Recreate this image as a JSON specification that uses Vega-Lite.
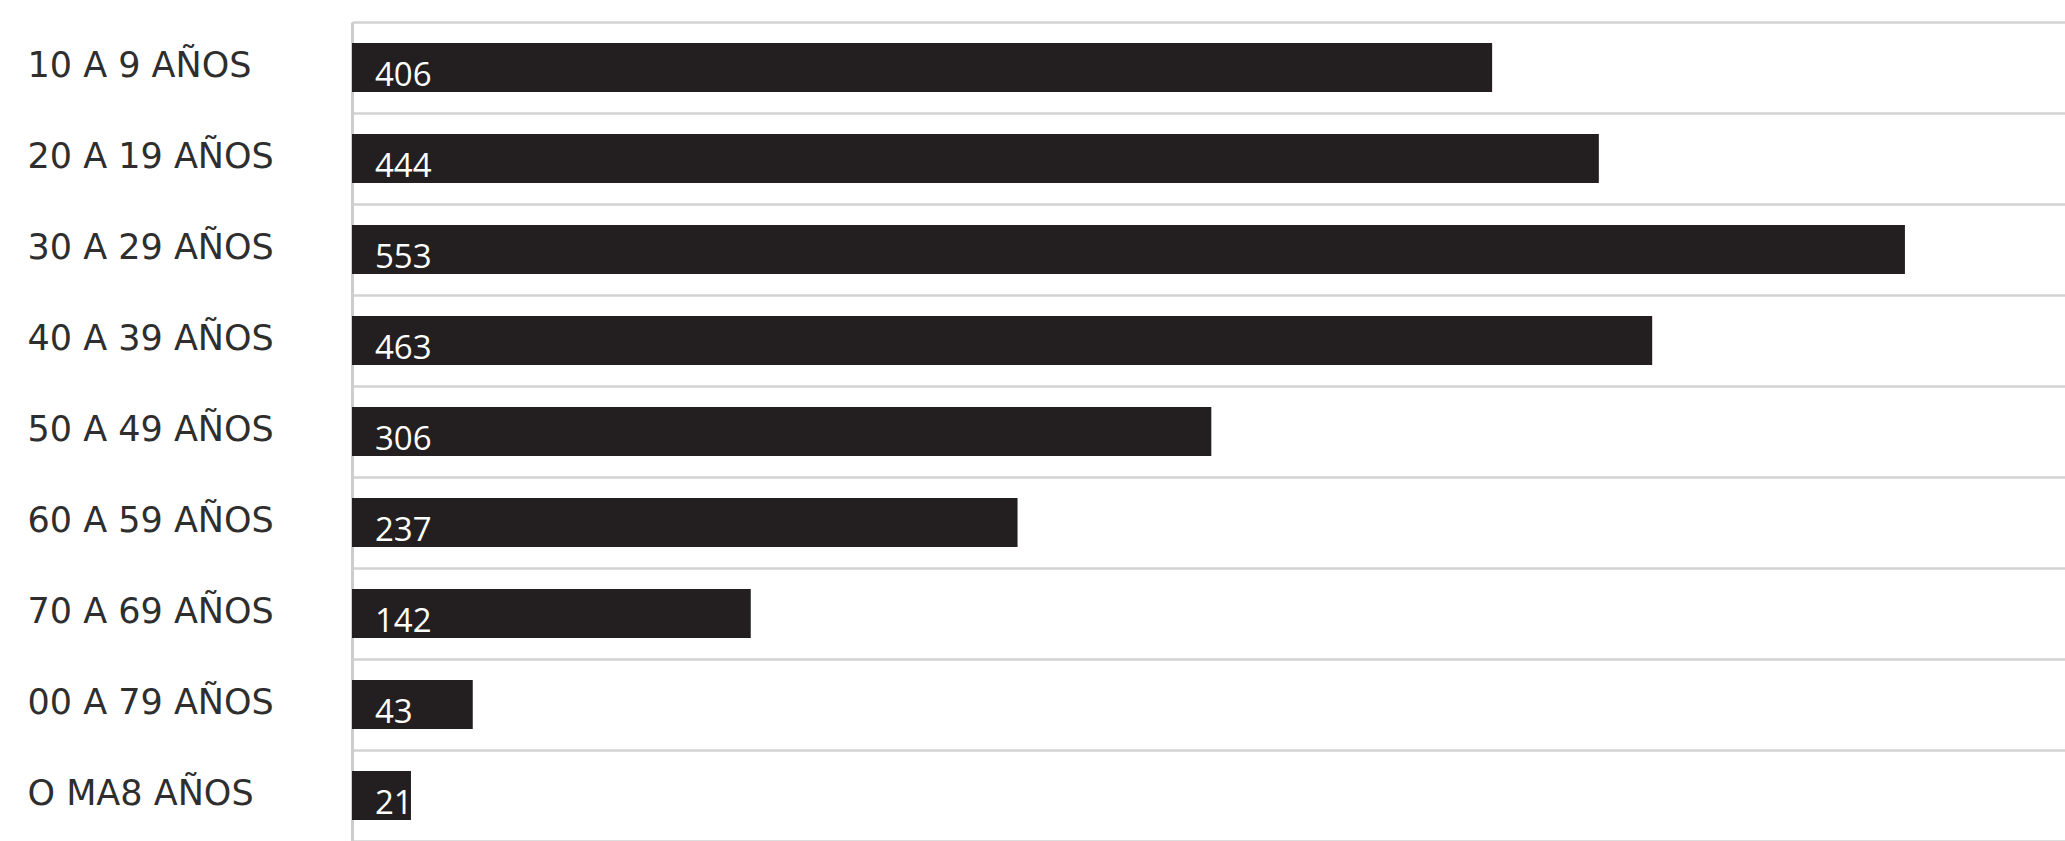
{
  "$schema": "https://vega.github.io/schema/vega-lite/v6.json",
  "width": 1713,
  "height": 819,
  "autosize": "none",
  "padding": {"left": 352, "top": 22, "right": 0, "bottom": 0},
  "background": "white",
  "data": {
    "values": [
      {"grupo": "10 A 9 AÑOS", "casos": 406},
      {"grupo": "20 A 19 AÑOS", "casos": 444},
      {"grupo": "30 A 29 AÑOS", "casos": 553},
      {"grupo": "40 A 39 AÑOS", "casos": 463},
      {"grupo": "50 A 49 AÑOS", "casos": 306},
      {"grupo": "60 A 59 AÑOS", "casos": 237},
      {"grupo": "70 A 69 AÑOS", "casos": 142},
      {"grupo": "00 A 79 AÑOS", "casos": 43},
      {"grupo": "O MA8 AÑOS", "casos": 21}
    ]
  },
  "config": {"view": {"stroke": null}},
  "encoding": {
    "y": {
      "field": "grupo",
      "type": "nominal",
      "sort": null,
      "scale": {"paddingInner": 0, "paddingOuter": 0},
      "axis": {
        "title": null,
        "ticks": false,
        "tickBand": "extent",
        "labelAlign": "left",
        "labelPadding": 325,
        "labelLimit": 500,
        "labelFont": "DejaVu Sans",
        "labelFontSize": 35,
        "labelColor": "#2e2e2e",
        "labelBaseline": "middle",
        "labelOffset": -2,
        "domain": true,
        "domainColor": "#cdcdcd",
        "domainWidth": 3,
        "grid": true,
        "gridColor": "#d2d2d2",
        "gridWidth": 2.5
      }
    }
  },
  "layer": [
    {
      "mark": {"type": "bar", "color": "#231f20", "height": {"band": 0.54}},
      "encoding": {
        "x": {
          "field": "casos",
          "type": "quantitative",
          "scale": {"domain": [0, 610], "nice": false},
          "axis": null
        }
      }
    },
    {
      "mark": {
        "type": "text",
        "color": "white",
        "font": "Open Sans",
        "fontSize": 33,
        "align": "left",
        "baseline": "middle",
        "dx": 23,
        "dy": 8
      },
      "encoding": {
        "x": {"datum": 0, "type": "quantitative"},
        "text": {"field": "casos", "type": "quantitative"}
      }
    }
  ]
}
